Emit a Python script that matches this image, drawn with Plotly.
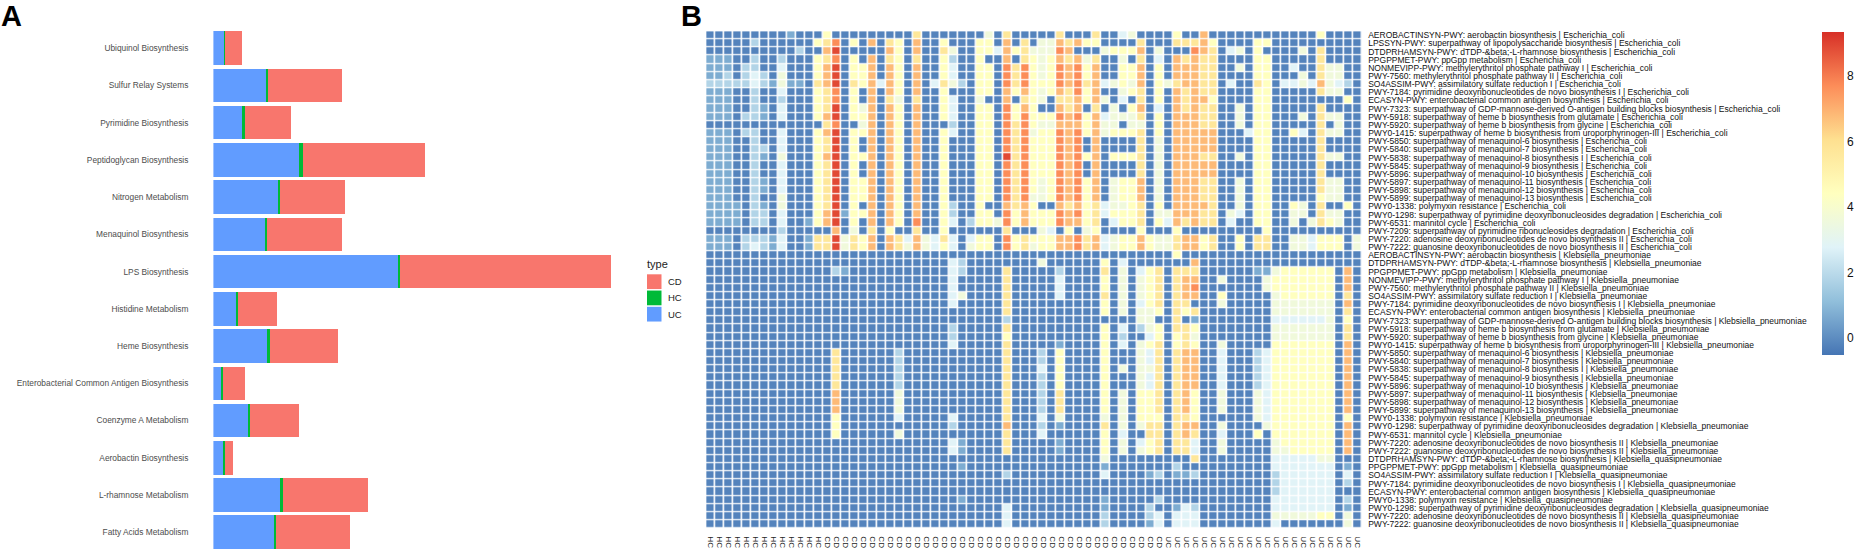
import plotly.graph_objects as go

W, H = 1859, 550

# ---------- Panel A data ----------
pathways = ["Ubiquinol Biosynthesis", "Sulfur Relay Systems", "Pyrimidine Biosynthesis",
            "Peptidoglycan Biosynthesis", "Nitrogen Metabolism", "Menaquinol Biosynthesis",
            "LPS Biosynthesis", "Histidine Metabolism", "Heme Biosynthesis",
            "Enterobacterial Common Antigen Biosynthesis", "Coenzyme A Metabolism",
            "Aerobactin Biosynthesis", "L-rhamnose Metabolism", "Fatty Acids Metabolism"]
uc_values = [26, 117, 67, 192, 144, 118, 413, 53, 122, 19, 80, 24, 152, 136]
hc_values = [1, 5, 4, 9, 5, 3, 6, 2, 4, 2, 3, 1, 4, 5]
cd_values = [36, 166, 103, 272, 145, 168, 471, 87, 153, 50, 109, 20, 190, 164]
legend_types = ["CD", "HC", "UC"]
type_colors = {"CD": "#F8766D", "HC": "#00BA38", "UC": "#619CFF"}

# ---------- Panel B data ----------
names = {
 "AEROBACTINSYN-PWY": "aerobactin biosynthesis",
 "LPSSYN-PWY": "superpathway of lipopolysaccharide biosynthesis",
 "DTDPRHAMSYN-PWY": "dTDP-&amp;beta;-L-rhamnose biosynthesis",
 "PPGPPMET-PWY": "ppGpp metabolism",
 "NONMEVIPP-PWY": "methylerythritol phosphate pathway I",
 "PWY-7560": "methylerythritol phosphate pathway II",
 "SO4ASSIM-PWY": "assimilatory sulfate reduction I",
 "PWY-7184": "pyrimidine deoxyribonucleotides de novo biosynthesis I",
 "ECASYN-PWY": "enterobacterial common antigen biosynthesis",
 "PWY-7323": "superpathway of GDP-mannose-derived O-antigen building blocks biosynthesis",
 "PWY-5918": "superpathway of heme b biosynthesis from glutamate",
 "PWY-5920": "superpathway of heme b biosynthesis from glycine",
 "PWY0-1415": "superpathway of heme b biosynthesis from uroporphyrinogen-III",
 "PWY-5850": "superpathway of menaquinol-6 biosynthesis",
 "PWY-5840": "superpathway of menaquinol-7 biosynthesis",
 "PWY-5838": "superpathway of menaquinol-8 biosynthesis I",
 "PWY-5845": "superpathway of menaquinol-9 biosynthesis",
 "PWY-5896": "superpathway of menaquinol-10 biosynthesis",
 "PWY-5897": "superpathway of menaquinol-11 biosynthesis",
 "PWY-5898": "superpathway of menaquinol-12 biosynthesis",
 "PWY-5899": "superpathway of menaquinol-13 biosynthesis",
 "PWY0-1338": "polymyxin resistance",
 "PWY0-1298": "superpathway of pyrimidine deoxyribonucleosides degradation",
 "PWY-6531": "mannitol cycle",
 "PWY-7209": "superpathway of pyrimidine ribonucleosides degradation",
 "PWY-7220": "adenosine deoxyribonucleotides de novo biosynthesis II",
 "PWY-7222": "guanosine deoxyribonucleotides de novo biosynthesis II",
}
ecoli_ids = list(names)
kleb_ids = [k for k in names if k not in ("LPSSYN-PWY", "PWY-7209")]
quasi_ids = ["DTDPRHAMSYN-PWY", "PPGPPMET-PWY", "SO4ASSIM-PWY", "PWY-7184", "ECASYN-PWY",
             "PWY0-1338", "PWY0-1298", "PWY-7220", "PWY-7222"]

col_groups = ["HC"] * 13 + ["CD"] * 38 + ["UC"] * 22

# Abundance, one digit per cell (a colour class);
# level_values holds the abundance each class stands for.
level_values = [-0.2, 0.7, 1.8, 2.8, 3.6, 4.4, 5.7, 6.8, 7.7, 8.9]

ecoli_left = [
 "000000000100 05000 00000 06000 00004 06000",
 "000002000000 56805 07065 07005 00055 07060",
 "000000000020 07900 00075 07006 40055 37564",
 "111002002000 56805 07065 06005 20050 07065",
 "111022003000 57905 57075 07005 30055 08685",
 "112023204000 57905 57075 07005 30055 08685",
 "222223214110 67906 57375 07036 42055 08685",
 "111002003000 56805 07075 07005 00055 07575",
 "111002002000 56805 07064 06005 30040 07065",
 "111002103000 56905 47075 07005 30055 08575",
 "111022103000 57905 57075 07005 30055 08585",
 "000000000000 06800 47075 07000 20055 08685",
 "111022003000 57905 57075 07005 30055 08684",
 "111002003000 56905 07075 07005 00055 08685",
 "111002203000 56905 07075 07005 00055 08685",
 "111002104000 57905 57075 07005 00055 09685",
 "111002003000 56905 07075 07005 00055 08685",
 "111002003000 56905 07075 07005 00055 08685",
 "111002103000 56905 57075 07005 00055 08685",
 "111002103000 56905 57075 07005 00055 08685",
 "111002004000 56905 57075 07005 00055 08684",
 "111102104000 56905 07075 07005 20050 07675",
 "111102203000 57915 57075 07005 20055 08575",
 "111102203001 57905 07075 08005 30255 48575",
 "000000002000 00704 06050 06005 00000 06000",
 "111022213001 66946 57076 37436 30355 08565",
 "111023213001 66946 57076 47435 30455 08564",
]
ecoli_right = [
 "006000 600340 000500 700000 000000 050000",
 "447675 500006 000666 750000 550000 000000",
 "448700 045557 040008 760340 500004 060000",
 "457674 600406 030767 660000 550000 060000",
 "458785 700557 050777 660040 550030 064400",
 "458785 700557 050777 660000 550004 064400",
 "558786 734547 054677 660300 650334 374320",
 "457685 700456 050767 660000 550000 064400",
 "406675 740306 050767 750000 550000 000050",
 "007670 604057 030767 660040 550000 060000",
 "558785 734446 050777 660040 550004 064400",
 "447775 744044 050777 660040 550000 060400",
 "558785 745556 050777 770003 550053 064400",
 "558780 700006 040777 770000 550000 060000",
 "558780 700006 040777 770000 550000 060000",
 "558785 705556 040777 660040 550000 064400",
 "558780 700006 040777 770000 550000 060000",
 "558780 700006 040777 770000 550000 060000",
 "458785 704557 040777 660040 550000 064400",
 "458785 704557 040777 660040 550000 064400",
 "458785 704557 040777 660040 550000 054400",
 "007675 634456 050777 760040 550054 060050",
 "558785 635556 044777 660430 550044 064400",
 "558775 603556 053767 660300 550040 465400",
 "430504 500005 000500 000000 050000 000000",
 "557786 734557 544677 560050 660044 355504",
 "557786 734557 544677 560050 660044 355504",
]

kleb_left = [
 "00000000000000 00 00000 0 00000 00 0000 0 000",
 "00000000000000 00 00000 0 00000 32 0000 0 000",
 "00000000000000 21 00000 0 00000 32 0000 6 000",
 "00000000000000 00 00000 0 00000 30 0000 6 000",
 "00000000000000 00 00000 0 00000 30 0000 6 000",
 "00000000000000 00 00000 0 00000 34 0000 6 000",
 "00000000000000 00 00000 0 00000 30 0000 6 000",
 "00000000000000 00 00000 0 00000 00 0000 6 000",
 "00000000000000 00 00000 0 00000 00 0000 2 000",
 "00000000000000 00 00000 0 00000 20 0000 6 000",
 "00000000000000 00 00000 0 00000 20 0000 5 000",
 "00000000000000 00 00000 0 00000 30 0000 6 000",
 "00000000000000 60 00000 2 00000 00 0000 6 000",
 "00000000000000 60 00000 2 00000 00 0000 6 000",
 "00000000000000 60 00000 2 00000 00 0000 6 000",
 "00000000000000 60 00000 2 00000 00 0000 6 000",
 "00000000000000 60 00000 2 00000 00 0000 6 000",
 "00000000000000 70 00000 4 00000 00 0000 6 000",
 "00000000000000 70 00000 4 00000 00 0000 6 000",
 "00000000000000 70 00000 4 00000 00 0000 6 000",
 "00000000000000 50 00000 3 00000 30 0000 6 000",
 "00000000000000 50 00000 0 00000 20 0000 7 000",
 "00000000000000 50 00000 4 00000 00 0000 6 000",
 "00000000000000 00 00000 0 00000 31 0000 6 000",
 "00000000000000 00 00000 0 00000 31 0000 6 000",
]
kleb_right = [
 "000 0000 0000 0000 500 00 0 000 00 0000000 000",
 "400 0000 5030 0000 007 00 0 000 00 0000000 000",
 "002 0000 6040 3560 666 00 0 000 11 4555555 070",
 "003 0000 5040 4560 677 00 4 000 04 5555555 070",
 "003 0000 5040 4560 678 00 0 000 04 5555555 070",
 "003 0000 6040 4560 677 00 5 000 00 4555555 060",
 "000 0000 5040 3560 660 00 4 000 00 4444444 070",
 "000 0000 5040 4450 656 00 0 000 00 4444444 060",
 "000 0000 0000 4400 601 00 0 000 00 3333334 050",
 "000 0000 5030 2450 665 00 0 000 00 4444444 060",
 "000 0000 5020 0350 564 00 0 000 00 4444444 060",
 "001 0000 5030 4560 565 00 4 000 00 5555555 070",
 "205 0000 5000 4360 677 00 3 000 23 5555555 070",
 "205 0000 5000 4360 677 00 3 000 23 5555555 070",
 "305 0000 5040 4460 677 00 3 000 23 5555555 070",
 "205 0000 5000 4360 677 00 3 000 23 5555555 070",
 "205 0000 5000 4360 677 00 3 000 23 5555555 070",
 "206 0000 5040 5560 675 00 4 000 43 5555555 070",
 "206 0000 5040 5560 675 00 4 000 43 5555555 070",
 "206 0000 5040 5560 675 00 4 000 43 5555555 070",
 "304 0000 4040 5550 665 00 0 000 43 5555555 050",
 "201 0000 6040 4660 677 00 4 000 04 5555555 070",
 "300 0000 5030 0660 676 00 3 000 50 5555555 070",
 "001 0000 5040 3560 663 00 4 000 00 4555555 070",
 "001 0000 5040 4560 663 00 4 000 00 4455555 070",
]

quasi_left = [
 "00000000000000 00 00000 0 00000 00 0000 0 000",
 "00000000000000 00 00000 0 00000 01 0000 0 000",
 "00000000000000 00 00000 0 00000 00 0000 2 000",
 "00000000000000 00 00000 0 00000 00 0000 0 000",
 "00000000000000 00 00000 0 00000 00 0000 0 000",
 "00000000000000 00 00000 0 00000 01 0000 0 000",
 "00000000000000 00 00000 0 00000 00 0000 3 000",
 "00000000000000 00 00000 0 00000 00 0000 3 000",
 "00000000000000 00 00000 0 00000 00 0000 3 000",
]
quasi_right = [
 "000 0000 4000 0000 006 00 0 000 00 3333344 000",
 "000 0000 1000 0000 200 00 0 000 00 3333333 010",
 "000 0000 3000 0120 112 00 0 000 00 2333333 030",
 "000 0000 0000 0000 000 00 0 000 00 2333333 020",
 "000 0000 0000 0000 000 00 0 000 00 2333333 000",
 "000 0000 1000 0020 000 00 0 000 00 3333333 020",
 "000 0000 1000 0200 132 00 0 000 00 3333333 010",
 "000 0000 2000 0230 333 00 0 000 00 4444455 040",
 "000 0000 2000 0130 333 00 0 000 00 3000000 040",
]
colorbar_ticks = [0, 2, 4, 6, 8]


def row_values(left, right):
    digits = (left + right).replace(" ", "")
    digits = digits.ljust(73, "0")[:73]
    return [level_values[int(d)] for d in digits]


z = []
labels = []
for ids, species, lefts, rights in [
    (ecoli_ids, "Escherichia_coli", ecoli_left, ecoli_right),
    (kleb_ids, "Klebsiella_pneumoniae", kleb_left, kleb_right),
    (quasi_ids, "Klebsiella_quasipneumoniae", quasi_left, quasi_right),
]:
    for pid, l, r in zip(ids, lefts, rights):
        z.append(row_values(l, r))
        labels.append(f"{pid}: {names[pid]} | {species}")

fig = go.Figure()

# Panel A stacked bars
for name, vals in [("UC", uc_values), ("HC", hc_values), ("CD", cd_values)]:
    fig.add_trace(go.Bar(y=pathways, x=vals, orientation="h", name=name, width=0.9,
                         marker=dict(color=type_colors[name], line=dict(width=0)),
                         showlegend=False, xaxis="x", yaxis="y"))

# Panel B heatmap
rdylbu = ["#4575B4", "#91BFDB", "#E0F3F8", "#FFFFBF", "#FEE090", "#FC8D59", "#D73027"]
fig.add_trace(go.Heatmap(
    z=z, x=list(range(73)), y=list(range(len(z))),
    zmin=-0.52, zmax=9.34, xgap=1.6, ygap=1.2, xaxis="x2", yaxis="y2",
    colorscale=[[i / 6, c] for i, c in enumerate(rdylbu)],
    colorbar=dict(thickness=22, thicknessmode="pixels", len=323, lenmode="pixels",
                  x=1822 / W, xanchor="left", y=1 - 31 / H, yanchor="top",
                  xpad=0, ypad=0, outlinewidth=0, ticks="", ticklabelposition="outside",
                  tickmode="array", tickvals=colorbar_ticks,
                  ticktext=[str(t) for t in colorbar_ticks],
                  tickfont=dict(family="Liberation Sans", size=12, color="#111111")),
))

shapes = []
annotations = [
    dict(text="<b>A</b>", x=-1 / W, y=1 - 15 / H, xref="paper", yref="paper", showarrow=False,
         xanchor="left", yanchor="middle", font=dict(family="Liberation Sans", size=29, color="black")),
    dict(text="<b>B</b>", x=679 / W, y=1 - 15 / H, xref="paper", yref="paper", showarrow=False,
         xanchor="left", yanchor="middle", font=dict(family="Liberation Sans", size=29, color="black")),
    dict(text="type", x=645 / W, y=1 - 264 / H, xref="paper", yref="paper", showarrow=False,
         xanchor="left", yanchor="middle", font=dict(family="Liberation Sans", size=11, color="#222222")),
]
for i, t in enumerate(legend_types):
    yc = 281.7 + i * 16.3
    shapes.append(dict(type="rect", xref="paper", yref="paper", x0=647 / W, x1=661.5 / W,
                       y0=1 - (yc - 7.4) / H, y1=1 - (yc + 7.4) / H,
                       fillcolor=type_colors[t], line=dict(width=0)))
    annotations.append(dict(text=t, x=665.5 / W, y=1 - yc / H, xref="paper", yref="paper",
                            showarrow=False, xanchor="left", yanchor="middle",
                            font=dict(family="Liberation Sans", size=9.5, color="#222222")))

fig.update_layout(
    width=W, height=H, margin=dict(l=0, r=0, t=0, b=0, pad=0),
    paper_bgcolor="white", plot_bgcolor="white", barmode="stack", bargap=0.1,
    shapes=shapes, annotations=annotations,
    font=dict(family="Liberation Sans"),
    xaxis=dict(domain=[213.4 / W, 620 / W], range=[0, 911], visible=False, fixedrange=True),
    yaxis=dict(domain=[0, 1 - 25 / H], type="category", categoryorder="array",
               categoryarray=pathways, range=[13.45, -0.6], showgrid=False, zeroline=False,
               showline=False, ticks="", ticklabelstandoff=24,
               tickfont=dict(family="Liberation Sans", size=8.35, color="#4D4D4D")),
    xaxis2=dict(domain=[706.2 / W, 1362.2 / W], range=[-0.5, 72.5], anchor="y2",
                tickmode="array", tickvals=list(range(73)), ticktext=col_groups, tickangle=90,
                ticks="", showgrid=False, zeroline=False, showline=False, ticklabelstandoff=7,
                tickfont=dict(family="Liberation Sans", size=8, color="#222222")),
    yaxis2=dict(domain=[1 - 529.3 / H, 1 - 30.3 / H], range=[60.5, -0.5], anchor="x2", side="right",
                tickmode="array", tickvals=list(range(len(labels))), ticktext=labels,
                ticks="", showgrid=False, zeroline=False, showline=False, ticklabelstandoff=5,
                tickfont=dict(family="Liberation Sans", size=8.5, color="#111111")),
)

fig.write_html("out.html", config={"displayModeBar": False},
               post_script="document.body.style.margin='0';document.body.style.overflow='hidden';")
